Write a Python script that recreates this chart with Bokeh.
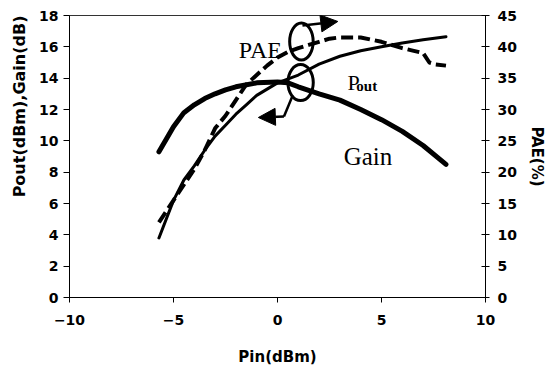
from bokeh.plotting import figure
from bokeh.models import Range1d, LinearAxis, FixedTicker, Label, Arrow, NormalHead, Title
from bokeh.embed import file_html
from bokeh.resources import INLINE

# ---------------- data ----------------
pin_pout = [-5.7, -5.0, -4.5, -4.0, -3.5, -3.0, -2.5, -2.0, -1.5, -1.0, -0.5, 0.0,
            1.0, 2.0, 3.0, 4.0, 5.0, 6.0, 7.0, 8.1]
pout = [3.8, 6.2, 7.5, 8.4, 9.4, 10.3, 11.0, 11.7, 12.3, 12.9, 13.3, 13.7,
        14.2, 14.9, 15.4, 15.75, 16.0, 16.25, 16.45, 16.65]

pin_gain = [-5.7, -5.0, -4.5, -4.0, -3.5, -3.0, -2.5, -2.0, -1.0, 0.0, 0.5,
            1.0, 2.0, 3.0, 4.0, 5.0, 6.0, 7.0, 8.1]
gain = [9.3, 10.9, 11.8, 12.3, 12.7, 13.0, 13.25, 13.45, 13.7, 13.75, 13.7,
        13.45, 13.0, 12.6, 12.0, 11.35, 10.6, 9.7, 8.5]

pin_pae = [-5.7, -5.0, -4.5, -4.0, -3.5, -3.0, -2.5, -2.0, -1.5, -1.0, -0.5, 0.0,
           0.5, 1.0, 1.5, 2.0, 2.5, 3.0, 4.0, 5.0, 6.0, 6.5, 7.0, 7.3, 7.6, 8.1]
pae = [12.0, 15.5, 18.0, 20.5, 23.5, 27.0, 29.0, 31.5, 34.0, 35.5, 37.0, 38.3,
       39.2, 39.8, 40.3, 40.8, 41.3, 41.5, 41.5, 40.8, 39.8, 39.4, 39.0, 37.5, 37.2, 37.0]

x_ticks = [-10, -5, 0, 5, 10]
left_ticks = [0, 2, 4, 6, 8, 10, 12, 14, 16, 18]
right_ticks = [0, 5, 10, 15, 20, 25, 30, 35, 40, 45]

x_label = "Pin(dBm)"
y_label = "Pout(dBm),Gain(dB)"
y2_label = "PAE(%)"

# ---------------- figure ----------------
p = figure(width=548, height=368, output_backend="svg", toolbar_location=None,
           x_range=Range1d(-10, 10), y_range=Range1d(0, 18),
           min_border_left=64, min_border_right=59, min_border_top=15, min_border_bottom=71,
           background_fill_color="white", border_fill_color="white")
p.extra_y_ranges = {"pae": Range1d(0, 45)}
p.xgrid.grid_line_color = None
p.ygrid.grid_line_color = None
p.outline_line_color = "black"
p.outline_line_width = 1
p.outline_line_alpha = 0.8

FONT = "DejaVu Sans"

def style_axis(ax, ticks, t_in, t_out, standoff, label, label_size, label_standoff):
    ax.ticker = FixedTicker(ticks=ticks)
    ax.minor_tick_line_color = None
    ax.major_tick_in = t_in
    ax.major_tick_out = t_out
    ax.major_tick_line_color = "black"
    ax.major_tick_line_width = 1
    ax.axis_line_color = "black"
    ax.axis_line_width = 1
    ax.major_label_text_font = FONT
    ax.major_label_text_font_style = "bold"
    ax.major_label_text_font_size = "14px"
    ax.major_label_text_color = "black"
    ax.major_label_standoff = standoff
    if label:
        ax.axis_label = label
        ax.axis_label_text_font = FONT
        ax.axis_label_text_font_style = "bold"
        ax.axis_label_text_font_size = label_size
        ax.axis_label_text_color = "black"
        ax.axis_label_standoff = label_standoff

style_axis(p.xaxis[0], x_ticks, 0, 5, 12, x_label, "15px", 20)
style_axis(p.yaxis[0], left_ticks, 0, 6, 5, None, None, None)

# left axis title placed toward the top end, as in the reference
p.add_layout(Title(text=y_label, align="right", text_font=FONT, text_font_style="bold",
                   text_font_size="16px", text_color="black", standoff=15), "left")

ax2 = LinearAxis(y_range_name="pae")
style_axis(ax2, right_ticks, 4, 4, 8, y2_label, "15px", 8)
p.add_layout(ax2, "right")

# ---------------- curves ----------------
p.line(pin_pae, pae, y_range_name="pae", line_color="black", line_width=4,
       line_dash="12 5")
p.line(pin_gain, gain, line_color="black", line_width=5, line_cap="round")
p.line(pin_pout, pout, line_color="black", line_width=3, line_cap="round")

# ---------------- annotations ----------------
p.ellipse(x=[1.15], y=[16.34], width=[1.13], height=[2.36],
          fill_color=None, line_color="black", line_width=3)
p.ellipse(x=[1.11], y=[13.72], width=[1.22], height=[2.30],
          fill_color=None, line_color="black", line_width=3)

p.add_layout(Arrow(end=NormalHead(size=17, fill_color="black", line_color="black"),
                   x_start=1.2, y_start=17.36, x_end=2.9, y_end=17.62,
                   line_color="black", line_width=2.5))
p.line([0.73, 0.31], [12.89, 11.55], line_color="black", line_width=2.5)
p.add_layout(Arrow(end=NormalHead(size=17, fill_color="black", line_color="black"),
                   x_start=0.31, y_start=11.55, x_end=-0.92, y_end=11.49,
                   line_color="black", line_width=2.5))

SERIF = "Liberation Serif"
p.add_layout(Label(x=-1.86, y=15.77, text="PAE", text_font=SERIF,
                   text_font_size="24px", text_color="black",
                   text_align="left", text_baseline="alphabetic"))
p.add_layout(Label(x=3.36, y=13.72, text="P", text_font=SERIF,
                   text_font_size="22px", text_color="black",
                   text_align="left", text_baseline="alphabetic"))
p.add_layout(Label(x=3.79, y=13.53, text="out", text_font=SERIF,
                   text_font_size="15px", text_font_style="bold", text_color="black",
                   text_align="left", text_baseline="alphabetic"))
p.add_layout(Label(x=3.18, y=9.0, text="Gain", text_font=SERIF,
                   text_font_size="25px", text_color="black",
                   text_align="left", text_baseline="alphabetic"))

open("out.html", "w").write(file_html(p, INLINE))
